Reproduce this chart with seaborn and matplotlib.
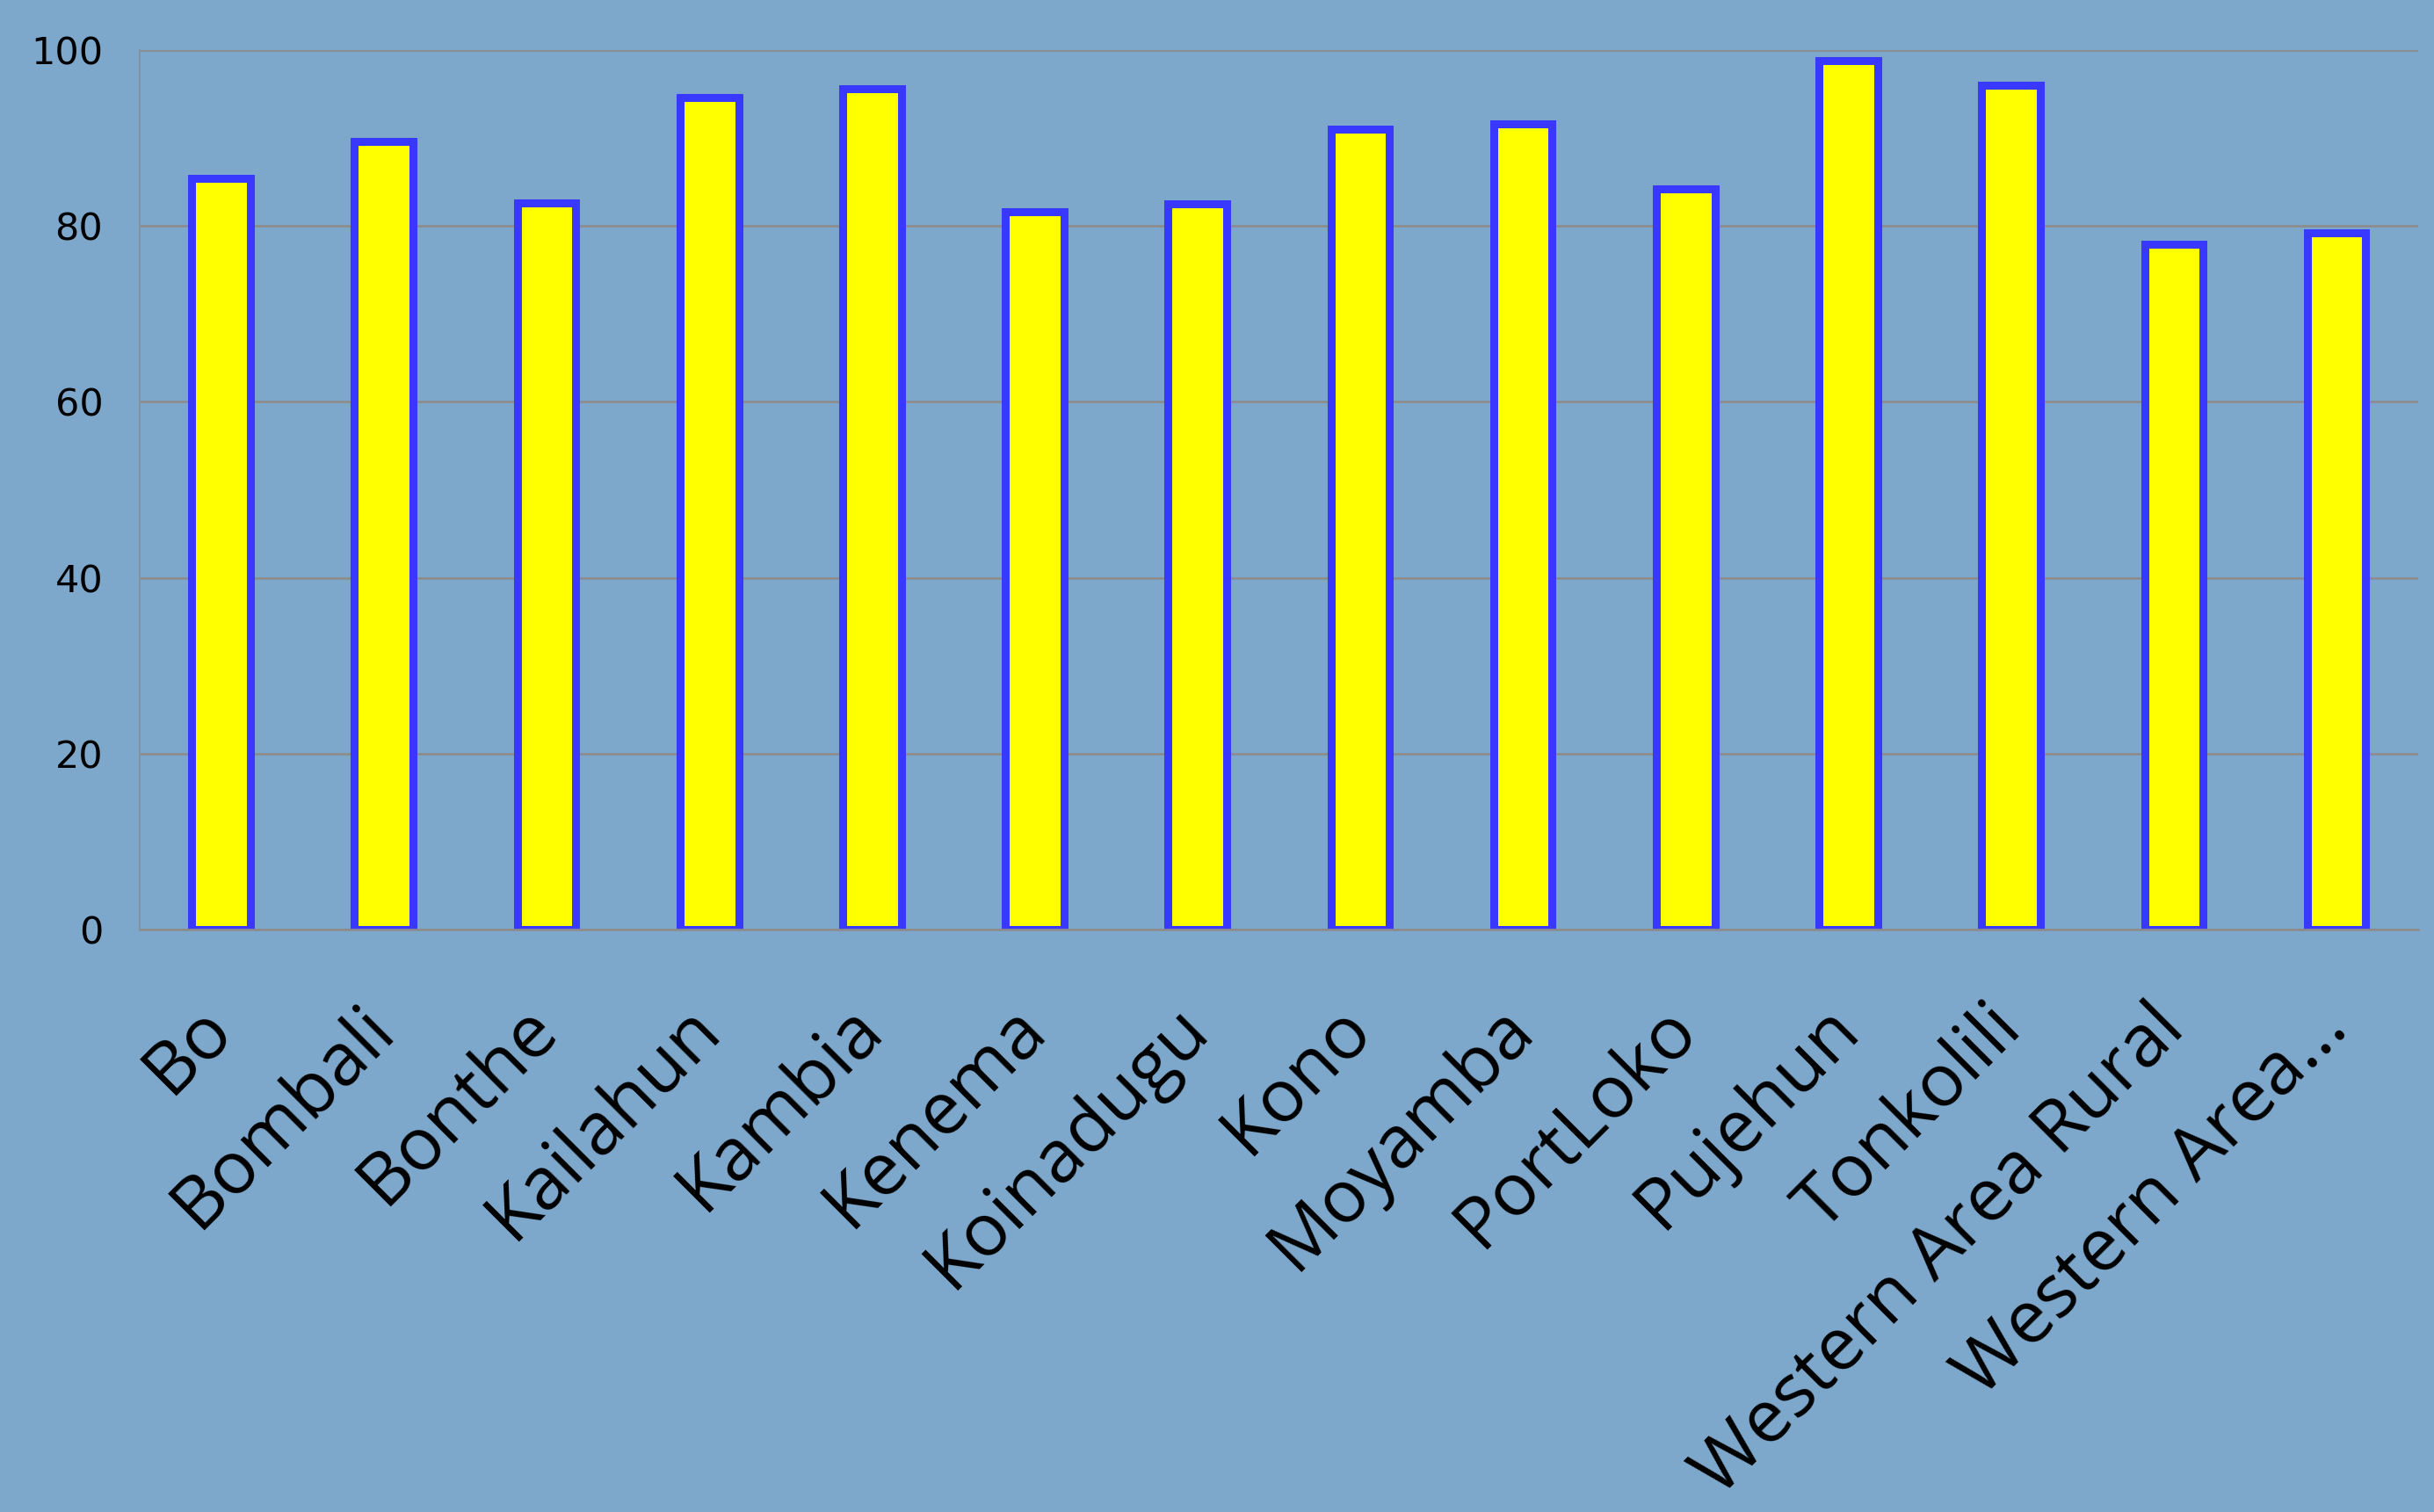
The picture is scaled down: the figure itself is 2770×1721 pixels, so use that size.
import matplotlib
matplotlib.use("Agg")
import matplotlib.pyplot as plt
import seaborn as sns

# Distretti e valori
districts = ["Bo", "Bombali", "Bonthe", "Kailahun", "Kambia", "Kenema", "Koinadugu",
             "Kono", "Moyamba", "PortLoko", "Pujehun", "Tonkolili",
             "Western Area Rural", "Western Area..."]
values = [85.4, 89.6, 82.6, 94.6, 95.6, 81.6, 82.5,
          91.0, 91.6, 84.2, 98.8, 96.0, 77.9, 79.2]
y_ticks = [0, 20, 40, 60, 80, 100]

BG = "#7EA8CB"

sns.set_theme(style="white")
plt.rcParams["font.family"] = ["Open Sans", "DejaVu Sans"]

fig = plt.figure(figsize=(27.7, 17.21), dpi=100, facecolor=BG)
ax = fig.add_axes([0.0574, 0.385, 0.936, 0.582])
ax.set_facecolor(BG)

sns.barplot(x=districts, y=values, color="#FFFF00", saturation=1,
            edgecolor="#3838FF", linewidth=6.5, width=0.36, ax=ax)

ax.set_xlim(-0.5, len(districts) - 0.5)
ax.set_ylim(0, 100)
ax.set_yticks(y_ticks)
ax.set_yticklabels([str(t) for t in y_ticks], family=["Liberation Sans Narrow", "DejaVu Sans"],
                   fontsize=31, color="black")
ax.yaxis.grid(True, color="#8C8C8C", linewidth=1.9)
ax.set_axisbelow(True)

ax.set_xticks(range(len(districts)))
ax.set_xticklabels(districts, rotation=45, ha="right", va="center",
                   rotation_mode="anchor", fontsize=60, color="black")
ax.tick_params(axis="x", length=0, pad=72)
ax.tick_params(axis="y", length=0, pad=30)
ax.set_xlabel("")
ax.set_ylabel("")

for side in ["top", "right"]:
    ax.spines[side].set_visible(False)
ax.spines["left"].set_color("#8C8C8C")
ax.spines["left"].set_linewidth(1.2)
ax.spines["bottom"].set_color("#8C8C8C")
ax.spines["bottom"].set_linewidth(1.9)

fig.savefig("out.png", dpi=100, facecolor=BG)
